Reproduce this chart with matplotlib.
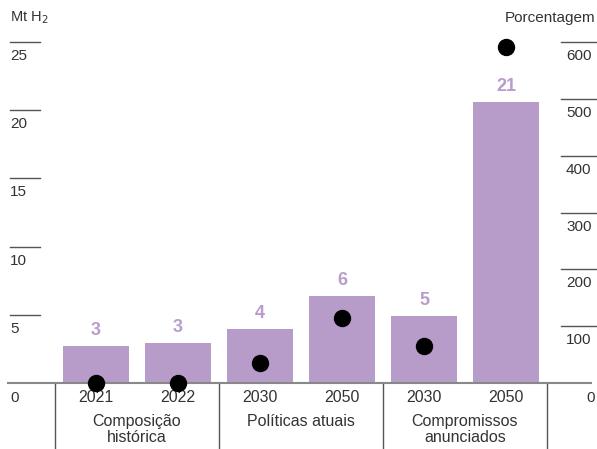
import matplotlib.pyplot as plt
import matplotlib.transforms as mtransforms

plt.rcParams['font.family'] = ['Liberation Sans', 'DejaVu Sans']

# hydrogen production (Mt H2) and growth (%) by scenario
years = ['2021', '2022', '2030', '2050', '2030', '2050']
groups = ['Composição\nhistórica', 'Políticas atuais', 'Compromissos\nanunciados']
mt_h2 = [2.73, 2.95, 3.96, 6.38, 4.91, 20.6]
bar_labels = ['3', '3', '4', '6', '5', '21']
pct = [0, 0, 36, 115, 66, 592]
left_ticks = [5, 10, 15, 20, 25]
right_ticks = [100, 200, 300, 400, 500, 600]

bar_color = '#b79bc9'
label_color = '#b89ccb'
text_color = '#333333'
line_color = '#555555'

fig = plt.figure(figsize=(5.97, 4.49), dpi=100)
ax = fig.add_axes([0, 0, 1, 1])
ax2 = ax.twinx()
for a in (ax, ax2):
    a.set_axis_off()

x = list(range(len(years)))
ax.set_xlim(-1.171, 6.11)
ax.set_ylim(-4.84, 28.08)
ax2.set_ylim(-116.2, 674.3)

ax.bar(x, mt_h2, width=0.8, color=bar_color, zorder=2)
for xi, v, lab in zip(x, mt_h2, bar_labels):
    ax.annotate(lab, (xi, v), xytext=(0, 5), textcoords='offset points',
                ha='center', va='bottom', fontsize=13, fontweight='bold',
                color=label_color)

ax2.plot(x, pct, 'o', color='black', markersize=11.5, zorder=4, clip_on=False)

# baseline
ax.axhline(0, xmin=0.013, xmax=0.99, color='#888888', lw=1.5, zorder=3)

# left axis ticks: short line with label underneath
tl = mtransforms.blended_transform_factory(fig.transFigure, ax.transData)
for t in left_ticks:
    ax.plot([10 / 597, 40 / 597], [t, t], color=line_color, lw=1, transform=tl)
    ax.annotate(str(t), (10 / 597, t), xycoords=tl, xytext=(0, -5),
                textcoords='offset points', ha='left', va='top',
                fontsize=11, color=text_color)
ax.annotate('0', (10 / 597, 0), xycoords=tl, xytext=(0, -6),
            textcoords='offset points', ha='left', va='top',
            fontsize=11, color=text_color)

tr = mtransforms.blended_transform_factory(fig.transFigure, ax2.transData)
for t in right_ticks:
    ax2.plot([561 / 597, 597 / 597], [t, t], color=line_color, lw=1, transform=tr)
    ax2.annotate(str(t), (566 / 597, t), xycoords=tr, xytext=(0, -5),
                 textcoords='offset points', ha='left', va='top',
                 fontsize=11, color=text_color)
ax2.annotate('0', (586 / 597, 0), xycoords=tr, xytext=(0, -6),
             textcoords='offset points', ha='left', va='top',
             fontsize=11, color=text_color)

# year labels
for xi, yr in zip(x, years):
    ax.annotate(yr, (xi, 0), xytext=(0, -5), textcoords='offset points',
                ha='center', va='top', fontsize=11.5, color=text_color)

# group separators and labels
for sep in [-0.5, 1.5, 3.5, 5.5]:
    ax.plot([sep, sep], [0, -4.84], color=line_color, lw=1, clip_on=False)
for gi, g in enumerate(groups):
    ax.annotate(g, (2 * gi + 0.5, 0), xytext=(0, -22), textcoords='offset points',
                ha='center', va='top', fontsize=11.5, color=text_color,
                linespacing=1.12)

fig.text(10 / 597, 1 - 18 / 449, 'Mt H$_2$', ha='left', va='center',
         fontsize=10.5, color=text_color)
fig.text(595 / 597, 1 - 18 / 449, 'Porcentagem', ha='right', va='center',
         fontsize=11, color=text_color)

fig.savefig('out.png', dpi=100)
